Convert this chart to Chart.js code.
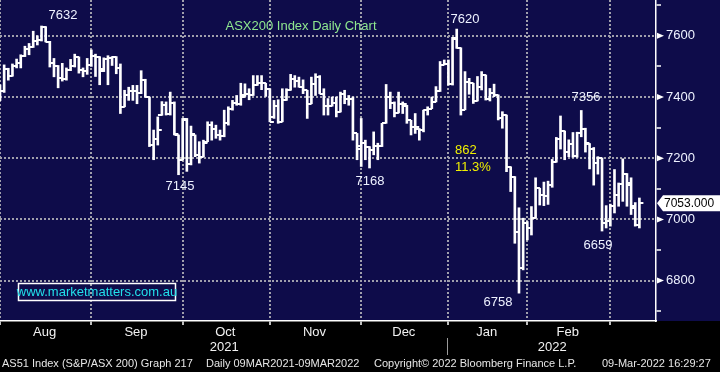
<!DOCTYPE html>
<html>
<head>
<meta charset="utf-8">
<script src="https://cdn.jsdelivr.net/npm/chart.js@4"></script>
<style>
  html, body { margin: 0; padding: 0; background: #000; }
  canvas { display: block; }
</style>
</head>
<body>
<canvas id="chart" width="720" height="372"></canvas>
<script>
/* ASX200 daily OHLC, Aug 2021 - 9 Mar 2022 (one entry per trading day) */
const opens = [
  7395, 7418, 7490, 7470, 7500, 7512, 7535, 7556, 7565, 7582, 7585, 7628, 7581, 7510, 7500, 7462, 7458, 7488, 7502, 7530, 7488, 7486,
  7504, 7535, 7530, 7490, 7525, 7528, 7530, 7495, 7368, 7405, 7420, 7418, 7414, 7456, 7400, 7244, 7262, 7341, 7375, 7345, 7380, 7276,
  7195, 7325, 7180, 7276, 7210, 7205, 7254, 7310, 7297, 7275, 7272, 7314, 7360, 7380, 7378, 7405, 7411, 7405, 7438, 7445, 7445,
  7427, 7335, 7370, 7319, 7389, 7424, 7459, 7452, 7432, 7422, 7378, 7441, 7467, 7411, 7370, 7372, 7380, 7351, 7411, 7395, 7395, 7281,
  7230, 7250, 7236, 7227, 7240, 7240, 7314, 7400, 7381, 7348, 7378, 7370, 7324, 7303, 7295, 7292, 7357, 7362, 7384, 7418, 7505,
  7507, 7442, 7590, 7561, 7358, 7450, 7445, 7387, 7434, 7472, 7394, 7412, 7407, 7330, 7341, 7172, 7140, 6960, 6840, 6987, 6971,
  7004, 7102, 7080, 7078, 7111, 7187, 7263, 7288, 7220, 7245, 7207, 7283, 7296, 7245, 7230, 7185, 7200, 6989, 6994, 7043, 7081,
  7115, 7147, 7119, 7043, 6983
];
const highs = [
  7440, 7505, 7494, 7508, 7524, 7538, 7566, 7575, 7615, 7600, 7632, 7630, 7582, 7526, 7503, 7510, 7495, 7523, 7540, 7531, 7495, 7526,
  7554, 7540, 7532, 7528, 7535, 7532, 7532, 7508, 7422, 7432, 7438, 7438, 7486, 7458, 7400, 7292, 7335, 7385, 7384, 7416, 7384, 7276,
  7330, 7330, 7305, 7276, 7254, 7259, 7319, 7319, 7308, 7292, 7357, 7368, 7389, 7405, 7445, 7443, 7427, 7470, 7470, 7470, 7445,
  7427, 7389, 7391, 7427, 7427, 7474, 7470, 7465, 7456, 7422, 7465, 7476, 7470, 7427, 7395, 7400, 7400, 7416, 7422, 7405, 7400, 7281,
  7330, 7259, 7238, 7286, 7249, 7314, 7441, 7416, 7384, 7416, 7384, 7373, 7324, 7346, 7297, 7357, 7368, 7400, 7434, 7516, 7521,
  7521, 7595, 7622, 7561, 7483, 7461, 7445, 7467, 7483, 7472, 7428, 7442, 7407, 7352, 7341, 7172, 7140, 7038, 7004, 6993, 7042,
  7136, 7102, 7122, 7125, 7196, 7268, 7338, 7289, 7260, 7284, 7285, 7356, 7298, 7248, 7235, 7205, 7201, 7045, 7050, 7163, 7119,
  7198, 7150, 7136, 7055, 7070
];
const lows = [
  7388, 7415, 7455, 7468, 7495, 7495, 7532, 7538, 7562, 7570, 7583, 7580, 7498, 7466, 7430, 7452, 7455, 7486, 7498, 7478, 7466, 7474,
  7500, 7467, 7440, 7483, 7440, 7503, 7476, 7346, 7368, 7389, 7389, 7378, 7411, 7400, 7238, 7195, 7243, 7340, 7341, 7341, 7276, 7146,
  7195, 7157, 7178, 7205, 7184, 7205, 7254, 7259, 7265, 7259, 7270, 7308, 7357, 7373, 7373, 7402, 7391, 7405, 7438, 7424, 7402,
  7319, 7330, 7314, 7319, 7389, 7422, 7432, 7432, 7411, 7330, 7378, 7405, 7411, 7341, 7341, 7370, 7335, 7351, 7378, 7373, 7259, 7195,
  7173, 7195, 7168, 7211, 7195, 7238, 7314, 7362, 7335, 7348, 7346, 7314, 7276, 7281, 7259, 7286, 7341, 7362, 7384, 7418, 7505,
  7439, 7439, 7559, 7341, 7358, 7409, 7379, 7387, 7423, 7390, 7387, 7401, 7325, 7298, 7156, 7091, 6922, 6759, 6835, 6933, 6949,
  7004, 7047, 7045, 7049, 7105, 7187, 7230, 7195, 7205, 7203, 7203, 7270, 7220, 7165, 7112, 7148, 6962, 6972, 6978, 7021, 7043,
  7059, 7043, 7016, 6978, 6972
];
const closes = [
  7418, 7492, 7470, 7500, 7512, 7535, 7556, 7562, 7582, 7585, 7628, 7581, 7510, 7500, 7462, 7458, 7488, 7502, 7530, 7488, 7486, 7504,
  7535, 7530, 7486, 7525, 7528, 7530, 7495, 7368, 7405, 7420, 7418, 7414, 7456, 7400, 7244, 7262, 7292, 7375, 7345, 7380, 7278, 7195,
  7328, 7180, 7280, 7210, 7205, 7250, 7310, 7297, 7275, 7272, 7314, 7360, 7380, 7378, 7400, 7411, 7405, 7438, 7445, 7445, 7427,
  7319, 7370, 7319, 7389, 7424, 7459, 7452, 7432, 7422, 7378, 7441, 7467, 7411, 7370, 7372, 7380, 7351, 7411, 7395, 7395, 7281, 7240,
  7250, 7236, 7227, 7240, 7240, 7314, 7400, 7381, 7348, 7378, 7378, 7324, 7303, 7303, 7292, 7357, 7362, 7384, 7418, 7505, 7507,
  7442, 7592, 7561, 7358, 7450, 7445, 7387, 7434, 7472, 7394, 7412, 7407, 7330, 7341, 7172, 7140, 6960, 6840, 6987, 6971, 7004,
  7102, 7080, 7078, 7111, 7187, 7263, 7288, 7220, 7245, 7207, 7283, 7296, 7250, 7230, 7185, 7200, 6989, 6994, 7043, 7081, 7115,
  7147, 7114, 7038, 6983, 7053
];

const slotCount = 159;                 // trading-day slots on the x axis (last few empty)
const monthStarts = [0, 22, 44, 65, 87, 108, 127, 147];
const monthNames = ["Aug", "Sep", "Oct", "Nov", "Dec", "Jan", "Feb"];
const years = [{ text: "2021", from: 0, to: 108 }, { text: "2022", from: 108, to: null }];
const yTicks = [6700, 6800, 6900, 7000, 7100, 7200, 7300, 7400, 7500, 7600, 7700];

const NAVY = "#0e0c4a";
const GRID = "#a0a0ac";
const TEXT = "#eef2ff";
const FONT = "'Liberation Sans', Arial, sans-serif";

const labels = Array.from({ length: slotCount }, (_, i) => i);
const ranges = lows.map((l, i) => [l, highs[i]]);

const bgPlugin = {
  id: "bg",
  beforeDraw(chart) {
    const { ctx, chartArea } = chart;
    ctx.save();
    ctx.fillStyle = "#000";
    ctx.fillRect(0, 0, chart.width, chart.height);
    ctx.fillStyle = NAVY;
    ctx.fillRect(0, 0, chart.width, chartArea.bottom);
    ctx.restore();
  },
};

// open tick to the left, close tick to the right of each high-low bar
const ohlcTicks = {
  id: "ohlcTicks",
  afterDatasetsDraw(chart) {
    const { ctx, chartArea, scales: { x, y } } = chart;
    ctx.save();
    ctx.beginPath();
    ctx.rect(chartArea.left, chartArea.top, chartArea.width, chartArea.height);
    ctx.clip();
    ctx.fillStyle = "#fff";
    for (let i = 0; i < closes.length; i++) {
      const px = x.getPixelForValue(i);
      ctx.fillRect(px - 4, Math.round(y.getPixelForValue(opens[i])) - 1, 4, 2);
      ctx.fillRect(px, Math.round(y.getPixelForValue(closes[i])) - 1, 4, 2);
    }
    ctx.restore();
  },
};

const decorations = {
  id: "decorations",
  afterDraw(chart) {
    const { ctx, chartArea, scales: { x, y } } = chart;
    ctx.save();
    ctx.textBaseline = "middle";

    // month names and years under the axis
    ctx.font = `13px ${FONT}`;
    ctx.fillStyle = "#f2f2f2";
    ctx.textAlign = "center";
    monthNames.forEach((m, i) => {
      const xm = (x.getPixelForValue(monthStarts[i]) + x.getPixelForValue(monthStarts[i + 1])) / 2;
      ctx.fillText(m, xm - 1, chartArea.bottom + 11);
    });
    years.forEach((yr) => {
      const x0 = x.getPixelForValue(yr.from);
      const x1 = yr.to === null ? chartArea.right : x.getPixelForValue(yr.to);
      ctx.fillText(yr.text, (x0 + x1) / 2, chartArea.bottom + 26);
    });
    const sepX = Math.round(x.getPixelForValue(years[1].from)) - 0.5;
    ctx.strokeStyle = "#9a9a9a";
    ctx.lineWidth = 1;
    ctx.beginPath();
    ctx.moveTo(sepX, chartArea.bottom + 17);
    ctx.lineTo(sepX, chartArea.bottom + 34);
    ctx.stroke();

    // axis markers at labelled prices
    ctx.fillStyle = "#fff";
    yTicks.filter((v) => v % 200 === 0).forEach((v) => {
      const py = y.getPixelForValue(v);
      ctx.beginPath();
      ctx.moveTo(chartArea.right + 1, py - 3);
      ctx.lineTo(chartArea.right + 1, py + 3);
      ctx.lineTo(chartArea.right + 8, py);
      ctx.closePath();
      ctx.fill();
    });

    // last price flag
    const last = closes[closes.length - 1];
    const ly = y.getPixelForValue(last);
    const r = chartArea.right;
    ctx.beginPath();
    ctx.moveTo(r + 1, ly);
    ctx.lineTo(r + 7, ly - 8);
    ctx.lineTo(720, ly - 8);
    ctx.lineTo(720, ly + 8);
    ctx.lineTo(r + 7, ly + 8);
    ctx.closePath();
    ctx.fill();
    ctx.fillStyle = "#000";
    ctx.textAlign = "left";
    ctx.font = `12px ${FONT}`;
    ctx.fillText(last.toFixed(3), r + 8, ly + 0.5);

    // annotations
    ctx.font = `13px ${FONT}`;
    ctx.textAlign = "center";
    ctx.fillStyle = TEXT;
    [["7632", 63, 15], ["7620", 465, 19], ["7356", 586, 97], ["7145", 180, 186],
     ["7168", 370, 181], ["6758", 498, 302], ["6659", 598, 245]].forEach(([t, tx, ty]) => ctx.fillText(t, tx, ty));
    ctx.fillStyle = "#8fe88f";
    ctx.fillText("ASX200 Index Daily Chart", 301, 26);
    ctx.fillStyle = "#f0f000";
    ctx.textAlign = "left";
    ctx.fillText("862", 455, 150);
    ctx.fillText("11.3%", 455, 167);

    ctx.strokeStyle = "#fff";
    ctx.lineWidth = 1.5;
    ctx.strokeRect(18.5, 283.5, 157, 17);
    ctx.fillStyle = "#22e0ea";
    ctx.textAlign = "center";
    ctx.fillText("www.marketmatters.com.au", 97, 292.5);

    // footer
    ctx.font = `11px ${FONT}`;
    ctx.fillStyle = "#e6e6e6";
    ctx.textAlign = "left";
    ctx.fillText("AS51 Index (S&P/ASX 200) Graph 217", 2, 364);
    ctx.fillText("Daily 09MAR2021-09MAR2022", 206, 364);
    ctx.fillText("Copyright\u00A9 2022 Bloomberg Finance L.P.", 374, 364);
    ctx.fillText("09-Mar-2022 16:29:27", 602, 364);
    ctx.restore();
  },
};

new Chart(document.getElementById("chart"), {
  type: "bar",
  data: {
    labels: labels,
    datasets: [{
      data: ranges,
      backgroundColor: "#fff",
      borderWidth: 0,
      borderSkipped: false,
      barThickness: 2,
    }],
  },
  options: {
    responsive: false,
    animation: false,
    devicePixelRatio: 1,
    layout: { padding: 0 },
    plugins: { legend: { display: false }, tooltip: { enabled: false } },
    scales: {
      x: {
        type: "category",
        offset: false,
        afterBuildTicks: (axis) => { axis.ticks = monthStarts.map((v) => ({ value: v })); },
        afterFit: (axis) => { axis.height = 51; axis.paddingLeft = 0; axis.paddingRight = 0; },
        grid: { offset: false, color: GRID, lineWidth: 2, tickColor: "#fff", tickLength: 4, tickWidth: 1.5 },
        border: { color: "#fff", width: 1.5, dash: [2, 2] },
        ticks: { autoSkip: false, callback: () => "", maxRotation: 0 },
      },
      y: {
        position: "right",
        min: 6668,
        max: 7717,
        afterBuildTicks: (axis) => { axis.ticks = yTicks.map((v) => ({ value: v })); },
        afterFit: (axis) => { axis.width = 64; axis.paddingTop = 0; axis.paddingBottom = 0; },
        grid: {
          color: (c) => (c.tick && c.tick.value % 200 === 0 ? GRID : "transparent"),
          tickColor: (c) => (c.tick && c.tick.value % 200 === 0 ? "transparent" : "#fff"),
          lineWidth: 2,
          tickLength: 5,
          tickWidth: 1.5,
        },
        border: { color: "#fff", width: 1.5, dash: [2, 2] },
        ticks: {
          padding: 5,
          color: TEXT,
          font: { family: FONT, size: 13 },
          callback: (v) => (v % 200 === 0 ? String(v) : ""),
        },
      },
    },
  },
  plugins: [bgPlugin, ohlcTicks, decorations],
});
</script>
</body>
</html>
